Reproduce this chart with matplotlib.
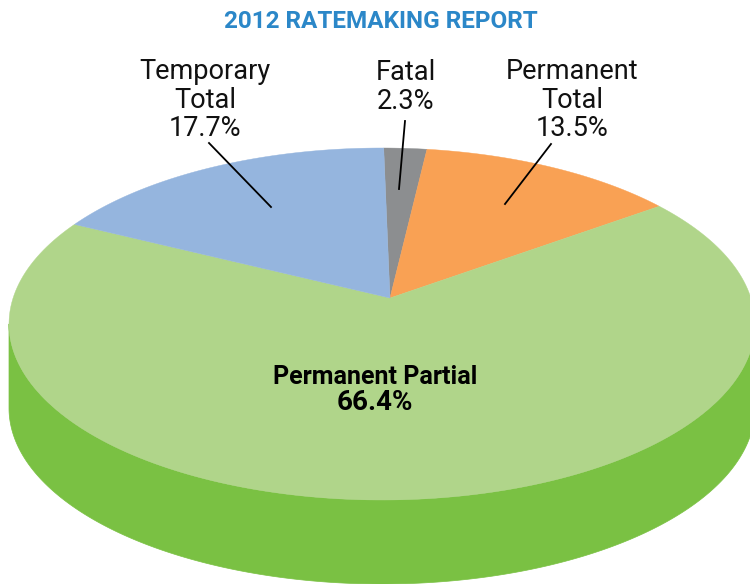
# ------------------------------------------------------------
# 2012 ratemaking report - pie con perspectiva
# ------------------------------------------------------------
import numpy as np
import matplotlib
matplotlib.use("Agg")
import matplotlib.pyplot as plt
from matplotlib.patches import Polygon

# -----------------------------
# 1) Datos
# -----------------------------
TITLE = "2012 RATEMAKING REPORT"
categories = ["Fatal", "Permanent Total", "Permanent Partial", "Temporary Total"]
values = [2.3, 13.5, 66.4, 17.7]
value_labels = ["2.3%", "13.5%", "66.4%", "17.7%"]
colors = ["#8C8E90", "#F9A154", "#B0D58A", "#95B5DE"]
SIDE_COLOR = "#7AC143"

# -----------------------------
# 2) Geometria de la perspectiva (pixeles)
# -----------------------------
APEX_X, APEX_Y = 390, 298
CX, CY = 382, 324
RX, RY = 373, 176
SQUASH = 0.5
DEPTH = 84
START = -1.2


def project(ang_deg):
    # angulo horario desde arriba -> rayo desde el vertice hasta la elipse
    t = np.radians(ang_deg)
    dx, dy = np.sin(t), -SQUASH * np.cos(t)
    ox, oy = (APEX_X - CX) / RX, (APEX_Y - CY) / RY
    px, py = dx / RX, dy / RY
    a = px**2 + py**2
    b = 2 * (ox * px + oy * py)
    c = ox**2 + oy**2 - 1
    r = (-b + np.sqrt(b**2 - 4 * a * c)) / (2 * a)
    return APEX_X + r * dx, APEX_Y + r * dy


fig = plt.figure(figsize=(7.5, 5.84), dpi=100)
ax = fig.add_axes([0, 0, 1, 1])
ax.set_xlim(0, 750)
ax.set_ylim(584, 0)
ax.axis("off")

# -----------------------------
# 3) Sectores
# -----------------------------
total = sum(values)
edges = START + np.concatenate([[0], np.cumsum(values)]) * 360 / total

# pared lateral: solo entre los extremos izquierdo y derecho de la elipse
ang = np.linspace(edges[2], edges[3], 600)
xs, ys = project(ang)
i0, i1 = np.argmax(xs), np.argmin(xs)
xs, ys = xs[i0:i1 + 1], ys[i0:i1 + 1]
side = np.column_stack([np.r_[xs, xs[::-1]], np.r_[ys, ys[::-1] + DEPTH]])
ax.add_patch(Polygon(side, closed=True, fc=SIDE_COLOR, ec=SIDE_COLOR, lw=0.5))

for i in range(len(values)):
    ang = np.linspace(edges[i], edges[i + 1], 200)
    xs, ys = project(ang)
    pts = np.column_stack([np.r_[APEX_X, xs], np.r_[APEX_Y, ys]])
    ax.add_patch(Polygon(pts, closed=True, fc=colors[i], ec=colors[i], lw=0.3))

# -----------------------------
# 4) Textos y lineas guia
# -----------------------------
bold_font = ["Roboto", "DejaVu Sans"]

ax.text(381, 21, TITLE, color="#2B87C8", fontsize=17.5, fontweight="bold",
        family=bold_font, ha="center", va="center")

label_kw = dict(fontsize=19.5, family=["Roboto", "DejaVu Sans"], fontweight="normal",
                color="#111111", ha="center", va="center", linespacing=1.07)
ax.text(205, 100, "Temporary\nTotal\n" + value_labels[3], **label_kw)
ax.text(406, 87, "Fatal\n" + value_labels[0], **label_kw)
ax.text(572, 100, "Permanent\nTotal\n" + value_labels[1], **label_kw)

ax.text(375, 377, "Permanent Partial", fontsize=18, fontweight="bold",
        family=bold_font, color="black", ha="center", va="center")
ax.text(375, 403, value_labels[2], fontsize=20, fontweight="bold",
        family=bold_font, color="black", ha="center", va="center")

ax.plot([209, 271], [143, 207], color="black", lw=1.3)
ax.plot([405, 399], [121, 189], color="black", lw=1.3)
ax.plot([551, 505], [144, 204], color="black", lw=1.3)

fig.savefig("out.png", dpi=100)
plt.close(fig)
